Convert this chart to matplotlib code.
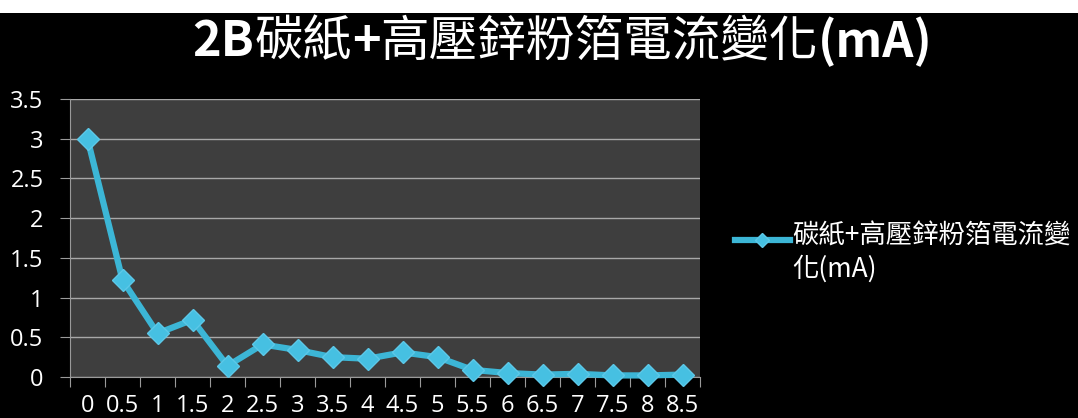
import matplotlib
matplotlib.use("Agg")
import matplotlib.pyplot as plt
from matplotlib.lines import Line2D
from matplotlib.patches import Rectangle
from matplotlib.ticker import FixedLocator, NullFormatter

# time in hours (category labels) and measured current in mA
time_labels = ["0", "0.5", "1", "1.5", "2", "2.5", "3", "3.5", "4", "4.5",
               "5", "5.5", "6", "6.5", "7", "7.5", "8", "8.5"]
current_ma = [3.0, 1.22, 0.55, 0.72, 0.14, 0.41, 0.34, 0.25, 0.23, 0.31,
              0.25, 0.09, 0.05, 0.03, 0.04, 0.02, 0.02, 0.03]
y_ticks = [0, 0.5, 1, 1.5, 2, 2.5, 3, 3.5]

# title pieces: latin parts bold, CJK parts regular
title_parts = [("2B", "bold"), ("碳紙", "normal"), ("+", "bold"),
               ("高壓鋅粉箔電流變化", "normal"), ("(mA)", "bold")]
series_name = "碳紙+高壓鋅粉箔電流變\n化(mA)"

cjk = ["Noto Sans CJK TC", "DejaVu Sans"]
plt.rcParams["font.family"] = ["Open Sans", "Noto Sans CJK TC", "DejaVu Sans"]

line_color = "#3cb6d6"
W, H = 1078, 418

fig = plt.figure(figsize=(W / 100, H / 100), dpi=100, facecolor="black")
fig.patches.append(Rectangle((0, 1 - 13 / H), 1, 13 / H, transform=fig.transFigure,
                             facecolor="white", edgecolor="none", zorder=-1))

ax = fig.add_axes([70 / W, 1 - 377 / H, 630 / W, 278 / H])
ax.set_facecolor("#3e3e3e")

x = list(range(len(time_labels)))
ax.plot(x, current_ma, color=line_color, lw=4.5, marker="D", ms=11,
        mec="#5cc8e8", mfc="#46c0e2", zorder=3, clip_on=False)

ax.set_xlim(-0.5, len(time_labels) - 0.5)
ax.set_ylim(0, 3.5)

# category boundaries carry the tick marks, centres carry the labels
ax.xaxis.set_major_locator(FixedLocator([i - 0.5 for i in range(len(time_labels) + 1)]))
ax.xaxis.set_major_formatter(NullFormatter())
ax.xaxis.set_minor_locator(FixedLocator(x))
ax.set_xticklabels(time_labels, minor=True)
ax.tick_params(axis="x", which="major", length=7, color="#9a9a9a", direction="out")
ax.tick_params(axis="x", which="minor", length=0, pad=12, labelsize=17, labelcolor="white")

ax.set_yticks(y_ticks)
ax.set_yticklabels([f"{v:g}" for v in y_ticks])
ax.tick_params(axis="y", length=7, color="#9a9a9a", pad=12, labelsize=17, labelcolor="white")

ax.grid(axis="y", color="#a8a8a8", lw=1)
ax.set_axisbelow(True)
for side in ["top", "right"]:
    ax.spines[side].set_visible(False)
for side in ["left", "bottom"]:
    ax.spines[side].set_color("#9a9a9a")

# lay the title out piece by piece, then centre the whole run
renderer = fig.canvas.get_renderer()
pieces, widths = [], []
for txt, weight in title_parts:
    t = fig.text(0, 0.9, txt, ha="left", va="center", color="white",
                 fontsize=35, family=cjk, weight=weight)
    pieces.append(t)
    widths.append(t.get_window_extent(renderer).width / fig.bbox.width)
start = 0.522 - sum(widths) / 2
for t, w in zip(pieces, widths):
    t.set_x(start)
    start += w

# legend key: short line with a small diamond, label wrapped over two lines
key_y = 1 - 240 / H
fig.add_artist(Line2D([735 / W, 790 / W], [key_y, key_y], transform=fig.transFigure,
                      color=line_color, lw=4.5))
fig.add_artist(Line2D([762 / W], [key_y], transform=fig.transFigure, marker="D", ms=7,
                      mec="#5cc8e8", mfc="#46c0e2", lw=0))
fig.text(792 / W, key_y, series_name, ha="left", va="top", color="white",
         fontsize=19, family=cjk, linespacing=1.25,
         transform=fig.transFigure).set_y(key_y + 17 / H)

fig.savefig("out.png", dpi=100, facecolor="black")
